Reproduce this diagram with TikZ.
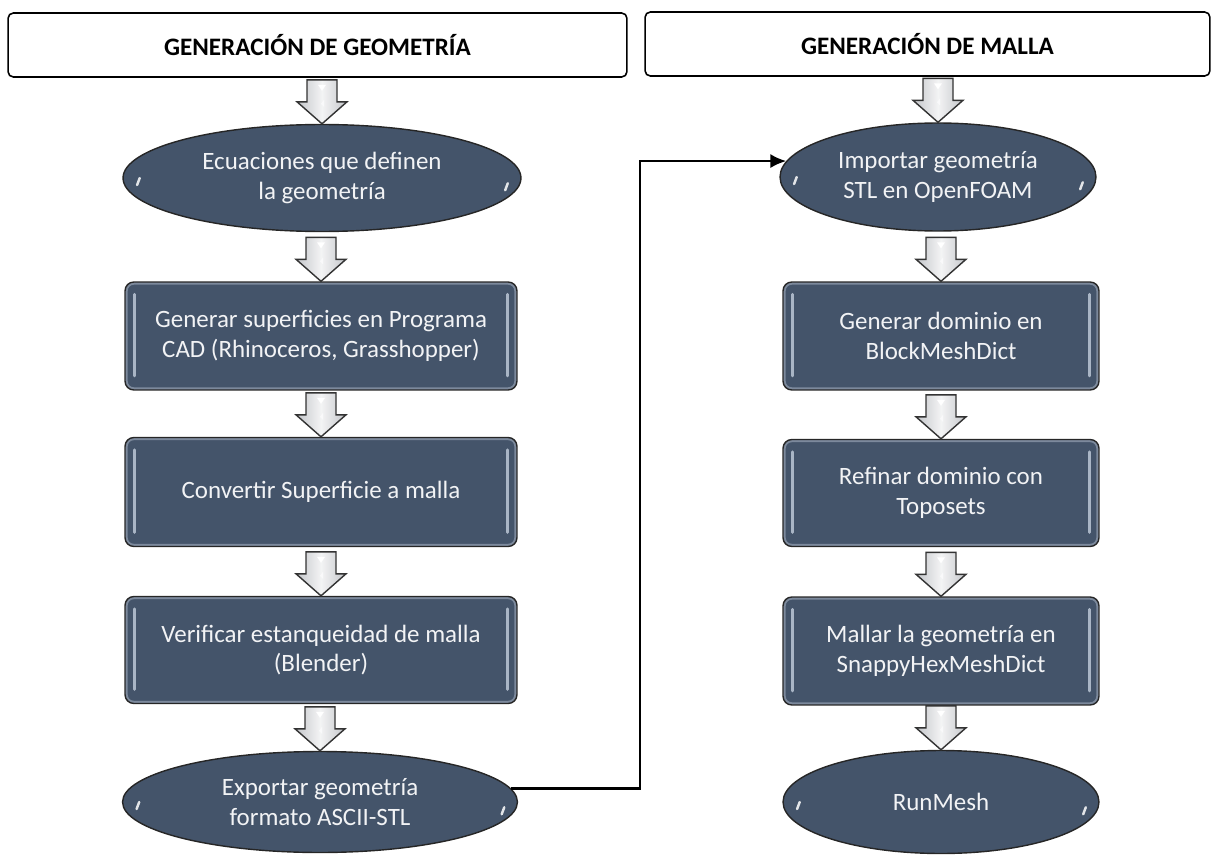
\documentclass[tikz,border=0pt]{standalone}
\usepackage{fontspec}
\setmainfont{Carlito}
\usetikzlibrary{arrows.meta,shapes.geometric}

\definecolor{pizarra}{HTML}{44546A}
\definecolor{brillo}{HTML}{A9B5C5}
\definecolor{gris}{HTML}{C4C6CA}
\definecolor{letra}{HTML}{F2F3F5}
\pgfdeclareradialshading{borde}{\pgfpoint{0bp}{0bp}}{color(0bp)=(pizarra); color(45.5bp)=(pizarra); color(50bp)=(brillo)}

\begin{document}
\begin{tikzpicture}[x=0.02cm,y=-0.02cm,
	titulo/.style={draw=black, line width=0.9pt, rounded corners=3pt, fill=white, minimum height=1.28cm, font=\fontsize{14.3}{16}\selectfont\bfseries},
	caja/.style={draw=black!85, line width=0.8pt, rounded corners=5pt, fill=pizarra, text=letra, align=center, inner sep=0pt, font=\fontsize{14.2}{17}\selectfont,
		path picture={
			\draw[brillo!55!pizarra, line width=3pt, rounded corners=5pt] (path picture bounding box.south west) rectangle (path picture bounding box.north east);
			\draw[brillo, line width=1.5pt, line cap=round] ([xshift=5.5pt,yshift=-7pt]path picture bounding box.north west) -- ([xshift=5.5pt,yshift=8pt]path picture bounding box.south west);
			\draw[brillo, line width=1.5pt, line cap=round] ([xshift=-5.5pt,yshift=-7pt]path picture bounding box.north east) -- ([xshift=-5.5pt,yshift=8pt]path picture bounding box.south east);
		}},
	elipse/.style={ellipse, draw=black!85, line width=0.8pt, shading=borde, text=letra, align=center, inner sep=0pt, font=\fontsize{14.2}{17}\selectfont,
		path picture={
			\draw[white, line width=1.4pt, line cap=round, opacity=.85] ([xshift=8pt,yshift=-4pt]path picture bounding box.west) -- ++(1.5pt,4pt);
			\draw[white, line width=1.4pt, line cap=round, opacity=.85] ([xshift=-9pt,yshift=-7pt]path picture bounding box.east) -- ++(1.5pt,4pt);
		}},
	bajar/.pic={
		\draw[draw=black!80, line width=0.8pt, left color=gris, right color=gris, middle color=white!80!gris] (-15,-22) -- (15,-22) -- (15,0) -- (25,0) -- (0,22) -- (-25,0) -- (-15,0) -- cycle;
		\fill[white] (-4,-17) -- (4,-17) -- (0,-11) -- cycle;
		\fill[white!90!gris] (-1,2) -- (2,-2) -- (2,5) -- cycle;
	}]
	\useasboundingbox (0,0) rectangle (1214,855);

	% encabezados
	\node[titulo, minimum width=12.38cm] (tgeo) at (317.5,45) {GENERACIÓN DE GEOMETRÍA};
	\node[titulo, minimum width=11.3cm] (tmal) at (927.5,44) {GENERACIÓN DE MALLA};

	% columna izquierda
	\node[elipse, minimum width=7.96cm, minimum height=2.14cm] (ecu) at (322,178) {Ecuaciones que definen\\la geometría};
	\node[caja, minimum width=7.84cm, minimum height=2.16cm] (cad) at (321,336) {Generar superficies en Programa\\CAD (Rhinoceros, Grasshopper)};
	\node[caja, minimum width=7.84cm, minimum height=2.18cm] (conv) at (321,492) {Convertir Superficie a malla};
	\node[caja, minimum width=7.84cm, minimum height=2.14cm] (verif) at (321,650) {Verificar estanqueidad de malla\\(Blender)};
	\node[elipse, minimum width=7.9cm, minimum height=2.02cm] (expo) at (320,802) {Exportar geometría\\formato ASCII-STL};

	% columna derecha
	\node[elipse, minimum width=6.32cm, minimum height=2.16cm] (impo) at (938,177) {Importar geometría\\STL en OpenFOAM};
	\node[caja, minimum width=6.32cm, minimum height=2.16cm] (dom) at (941,336) {Generar dominio en\\BlockMeshDict};
	\node[caja, minimum width=6.32cm, minimum height=2.14cm] (refi) at (941,493) {Refinar dominio con\\Toposets};
	\node[caja, minimum width=6.32cm, minimum height=2.16cm] (mall) at (941,651) {Mallar la geometría en\\SnappyHexMeshDict};
	\node[elipse, minimum width=6.32cm, minimum height=2.06cm] (run) at (941,802) {RunMesh};

	% flechas de bloque
	\pic at ([yshift=0.44cm]ecu.north) {bajar};
	\pic at ([yshift=0.44cm]cad.north) {bajar};
	\pic at ([yshift=0.44cm]conv.north) {bajar};
	\pic at ([yshift=0.44cm]verif.north) {bajar};
	\pic at ([yshift=0.44cm]expo.north) {bajar};
	\pic at ([yshift=0.44cm]impo.north) {bajar};
	\pic at ([yshift=0.44cm]dom.north) {bajar};
	\pic at ([yshift=0.44cm]refi.north) {bajar};
	\pic at ([yshift=0.44cm]mall.north) {bajar};
	\pic at ([yshift=0.44cm]run.north) {bajar};

	% enlace entre columnas
	\coordinate (codo) at (640,0);
	\draw[line width=1.3pt, -{Latex[length=9pt,width=8pt]}] (expo.4) -- (expo.4 -| codo) |- (impo.174);
\end{tikzpicture}
\end{document}
